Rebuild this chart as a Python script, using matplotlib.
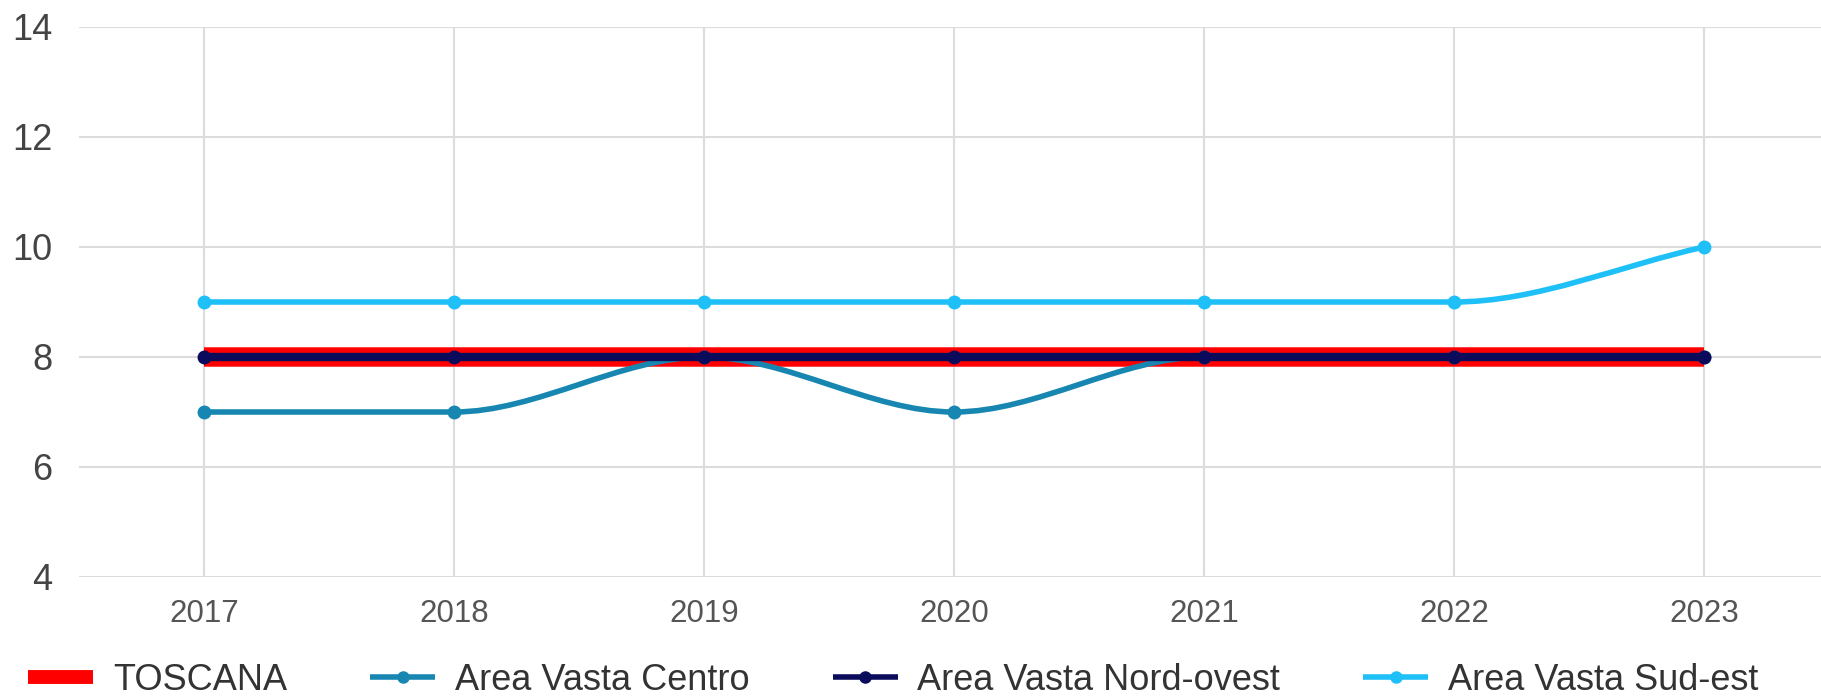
import matplotlib
matplotlib.use("Agg")
import matplotlib.pyplot as plt
from matplotlib.lines import Line2D
from matplotlib.path import Path
from matplotlib.patches import PathPatch
import numpy as np

# data
years = [2017, 2018, 2019, 2020, 2021, 2022, 2023]
toscana = [8, 8, 8, 8, 8, 8, 8]
av_centro = [7, 7, 8, 7, 8, 8, 8]
av_nord_ovest = [8, 8, 8, 8, 8, 8, 8]
av_sud_est = [9, 9, 9, 9, 9, 9, 10]

labels = ["TOSCANA", "Area Vasta Centro", "Area Vasta Nord-ovest", "Area Vasta Sud-est"]
colors = ["#ff0000", "#1787b2", "#0b0b5c", "#1fc0f8"]
y_ticks = [4, 6, 8, 10, 12, 14]

plt.rcParams["font.family"] = ["Liberation Sans", "DejaVu Sans"]


def monotone_path(x, y):
    """Bezier path like a monotone cubic line (Fritsch-Carlson tangents)."""
    x = np.asarray(x, float)
    y = np.asarray(y, float)
    n = len(x)
    d = np.diff(y) / np.diff(x)
    m = np.zeros(n)
    m[0], m[-1] = d[0], d[-1]
    for i in range(1, n - 1):
        m[i] = 0 if np.sign(d[i - 1]) != np.sign(d[i]) else (d[i - 1] + d[i]) / 2
    for i in range(n - 1):
        if d[i] == 0:
            m[i] = m[i + 1] = 0
            continue
        a, b = m[i] / d[i], m[i + 1] / d[i]
        tau = a * a + b * b
        if tau > 9:
            t = 3 / np.sqrt(tau)
            m[i], m[i + 1] = t * a * d[i], t * b * d[i]
    verts = [(x[0], y[0])]
    codes = [Path.MOVETO]
    for i in range(n - 1):
        dx = (x[i + 1] - x[i]) / 3
        verts += [(x[i] + dx, y[i] + dx * m[i]),
                  (x[i + 1] - dx, y[i + 1] - dx * m[i + 1]),
                  (x[i + 1], y[i + 1])]
        codes += [Path.CURVE4] * 3
    return Path(verts, codes)


fig = plt.figure(figsize=(18.21, 6.98), dpi=100)
ax = fig.add_axes([79 / 1821, 1 - 577 / 698, 1750 / 1821, 550 / 698])

series = [toscana, av_centro, av_nord_ovest, av_sud_est]
widths = [14, 4, 6, 4]
zorders = [2, 3, 4, 5]
for vals, c, lw, z, has_marker in zip(series, colors, widths, zorders,
                                       [False, True, True, True]):
    ax.add_patch(PathPatch(monotone_path(years, vals), facecolor="none",
                           edgecolor=c, lw=lw, zorder=z, capstyle="butt"))
    if has_marker:
        ax.plot(years, vals, "o", color=c, ms=9, zorder=z + 0.5, clip_on=False)

ax.set_xlim(2016.5, 2023.5)
ax.set_ylim(4, 14)
ax.set_xticks(years)
ax.set_yticks(y_ticks)
ax.grid(True, color="#dcdcdc", lw=1.5)
ax.set_axisbelow(True)
for s in ax.spines.values():
    s.set_visible(False)
ax.tick_params(axis="x", length=0, pad=16, labelsize=22.5, labelcolor="#555555")
ax.tick_params(axis="y", length=0, pad=19, labelsize=26, labelcolor="#444444")

handles = [Line2D([], [], color=colors[0], lw=10, solid_capstyle="butt")]
for c in colors[1:]:
    handles.append(Line2D([], [], color=c, lw=4, marker="o", ms=8,
                          solid_capstyle="butt"))
fig.legend(handles, labels, loc="lower left", bbox_to_anchor=(28 / 1821, 0.0),
           ncol=4, frameon=False, fontsize=26, handlelength=1.8,
           handletextpad=0.55, columnspacing=2.3, borderpad=0, borderaxespad=0,
           labelcolor="#333333")

fig.savefig("out.png", dpi=100)
